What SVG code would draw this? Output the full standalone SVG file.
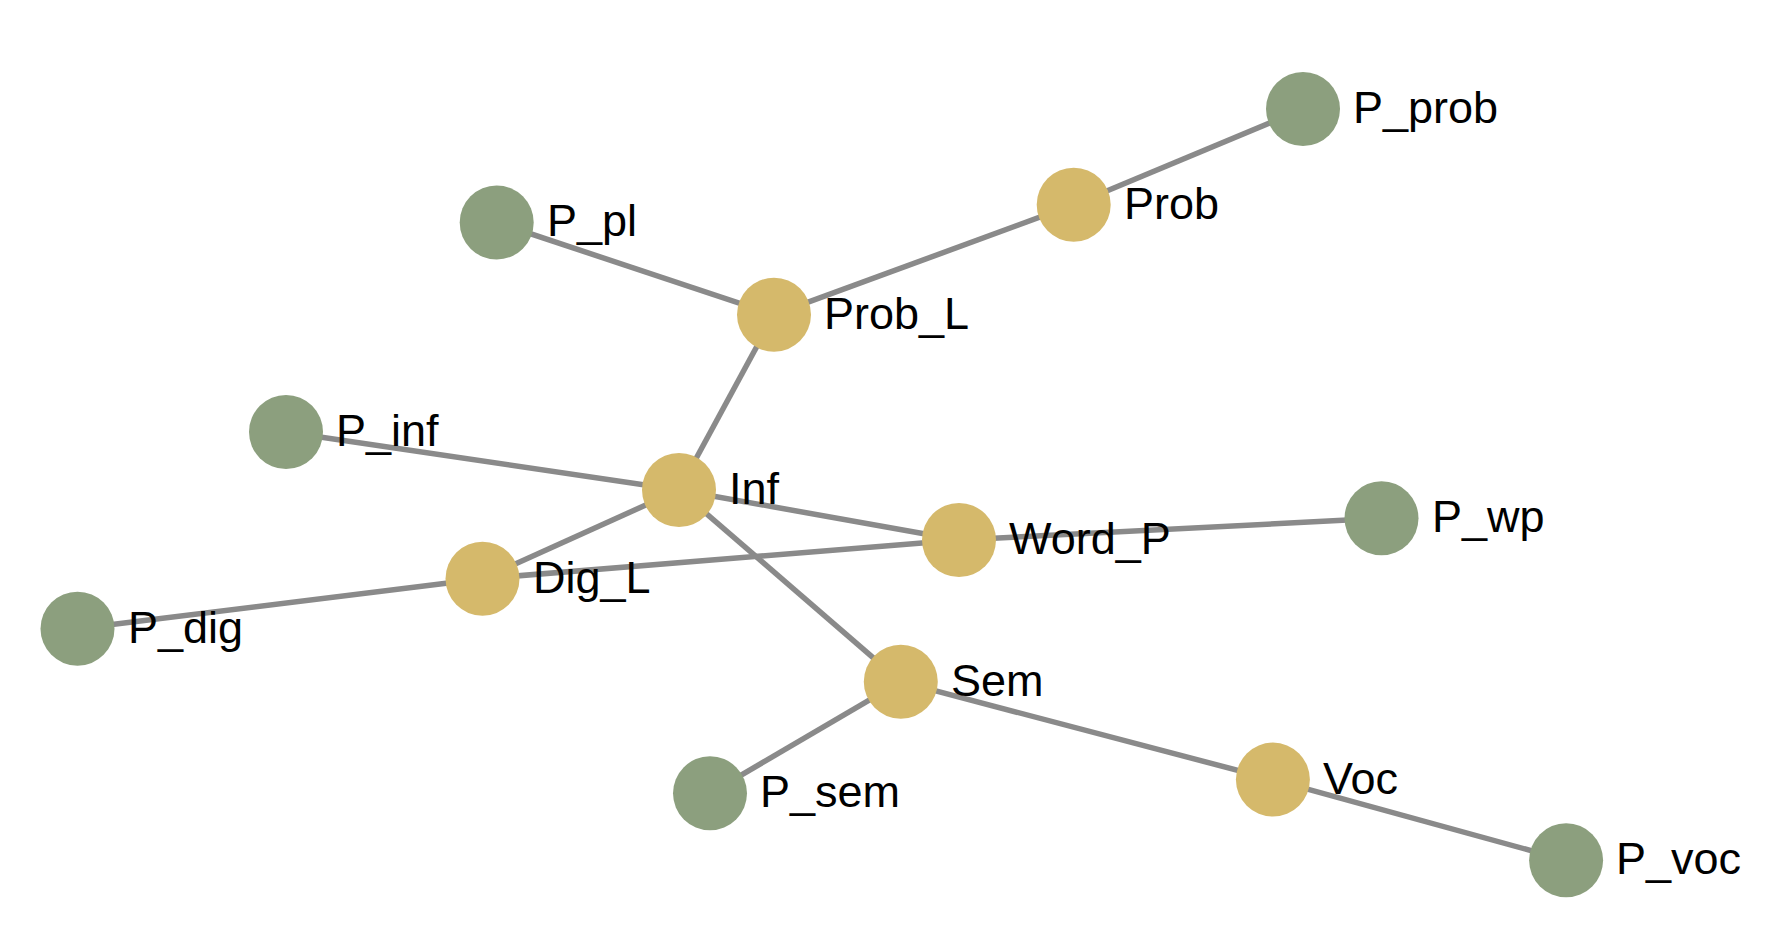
<svg xmlns="http://www.w3.org/2000/svg" width="1782" height="932" viewBox="0 0 1782 932">
<style>
.edge{stroke:#8a8a8a;stroke-width:5.5;fill:none}
.leaf{fill:#8c9f7e}
.hub{fill:#d5b96b}
.lbl{font-family:"Liberation Sans",Arial,sans-serif;font-size:45px;fill:#000}
</style>
<rect width="1782" height="932" fill="#fff"/>
<g id="connectors">
<line class="edge" x1="1303" y1="109" x2="1073.7" y2="204.7"/>
<line class="edge" x1="1073.7" y1="204.7" x2="774" y2="314.7"/>
<line class="edge" x1="496.7" y1="222.5" x2="774" y2="314.7"/>
<line class="edge" x1="774" y1="314.7" x2="679" y2="490"/>
<line class="edge" x1="286" y1="432" x2="679" y2="490"/>
<line class="edge" x1="679" y1="490" x2="959" y2="540"/>
<line class="edge" x1="679" y1="490" x2="482.5" y2="578.7"/>
<line class="edge" x1="679" y1="490" x2="900.8" y2="681.7"/>
<line class="edge" x1="959" y1="540" x2="1381.5" y2="518.3"/>
<line class="edge" x1="959" y1="540" x2="482.5" y2="578.7"/>
<line class="edge" x1="482.5" y1="578.7" x2="77.5" y2="628.7"/>
<line class="edge" x1="900.8" y1="681.7" x2="710" y2="793.3"/>
<line class="edge" x1="900.8" y1="681.7" x2="1272.9" y2="779.6"/>
<line class="edge" x1="1272.9" y1="779.6" x2="1566.1" y2="860.3"/>
</g>
<g id="P_prob"><circle class="leaf" cx="1303" cy="109" r="37"/><text class="lbl" x="1353" y="123">P_prob</text></g>
<g id="Prob"><circle class="hub" cx="1073.7" cy="204.7" r="37"/><text class="lbl" x="1124" y="219">Prob</text></g>
<g id="P_pl"><circle class="leaf" cx="496.7" cy="222.5" r="37"/><text class="lbl" x="547" y="236">P_pl</text></g>
<g id="Prob_L"><circle class="hub" cx="774" cy="314.7" r="37"/><text class="lbl" x="824" y="329">Prob_L</text></g>
<g id="P_inf"><circle class="leaf" cx="286" cy="432" r="37"/><text class="lbl" x="336" y="446">P_inf</text></g>
<g id="Inf"><circle class="hub" cx="679" cy="490" r="37"/><text class="lbl" x="729" y="504">Inf</text></g>
<g id="Word_P"><circle class="hub" cx="959" cy="540" r="37"/><text class="lbl" x="1009" y="554">Word_P</text></g>
<g id="P_wp"><circle class="leaf" cx="1381.5" cy="518.3" r="37"/><text class="lbl" x="1432" y="532">P_wp</text></g>
<g id="Dig_L"><circle class="hub" cx="482.5" cy="578.7" r="37"/><text class="lbl" x="533" y="593">Dig_L</text></g>
<g id="P_dig"><circle class="leaf" cx="77.5" cy="628.7" r="37"/><text class="lbl" x="128" y="643">P_dig</text></g>
<g id="Sem"><circle class="hub" cx="900.8" cy="681.7" r="37"/><text class="lbl" x="951" y="696">Sem</text></g>
<g id="P_sem"><circle class="leaf" cx="710" cy="793.3" r="37"/><text class="lbl" x="760" y="807">P_sem</text></g>
<g id="Voc"><circle class="hub" cx="1272.9" cy="779.6" r="37"/><text class="lbl" x="1323" y="794">Voc</text></g>
<g id="P_voc"><circle class="leaf" cx="1566.1" cy="860.3" r="37"/><text class="lbl" x="1616" y="874">P_voc</text></g>
</svg>
